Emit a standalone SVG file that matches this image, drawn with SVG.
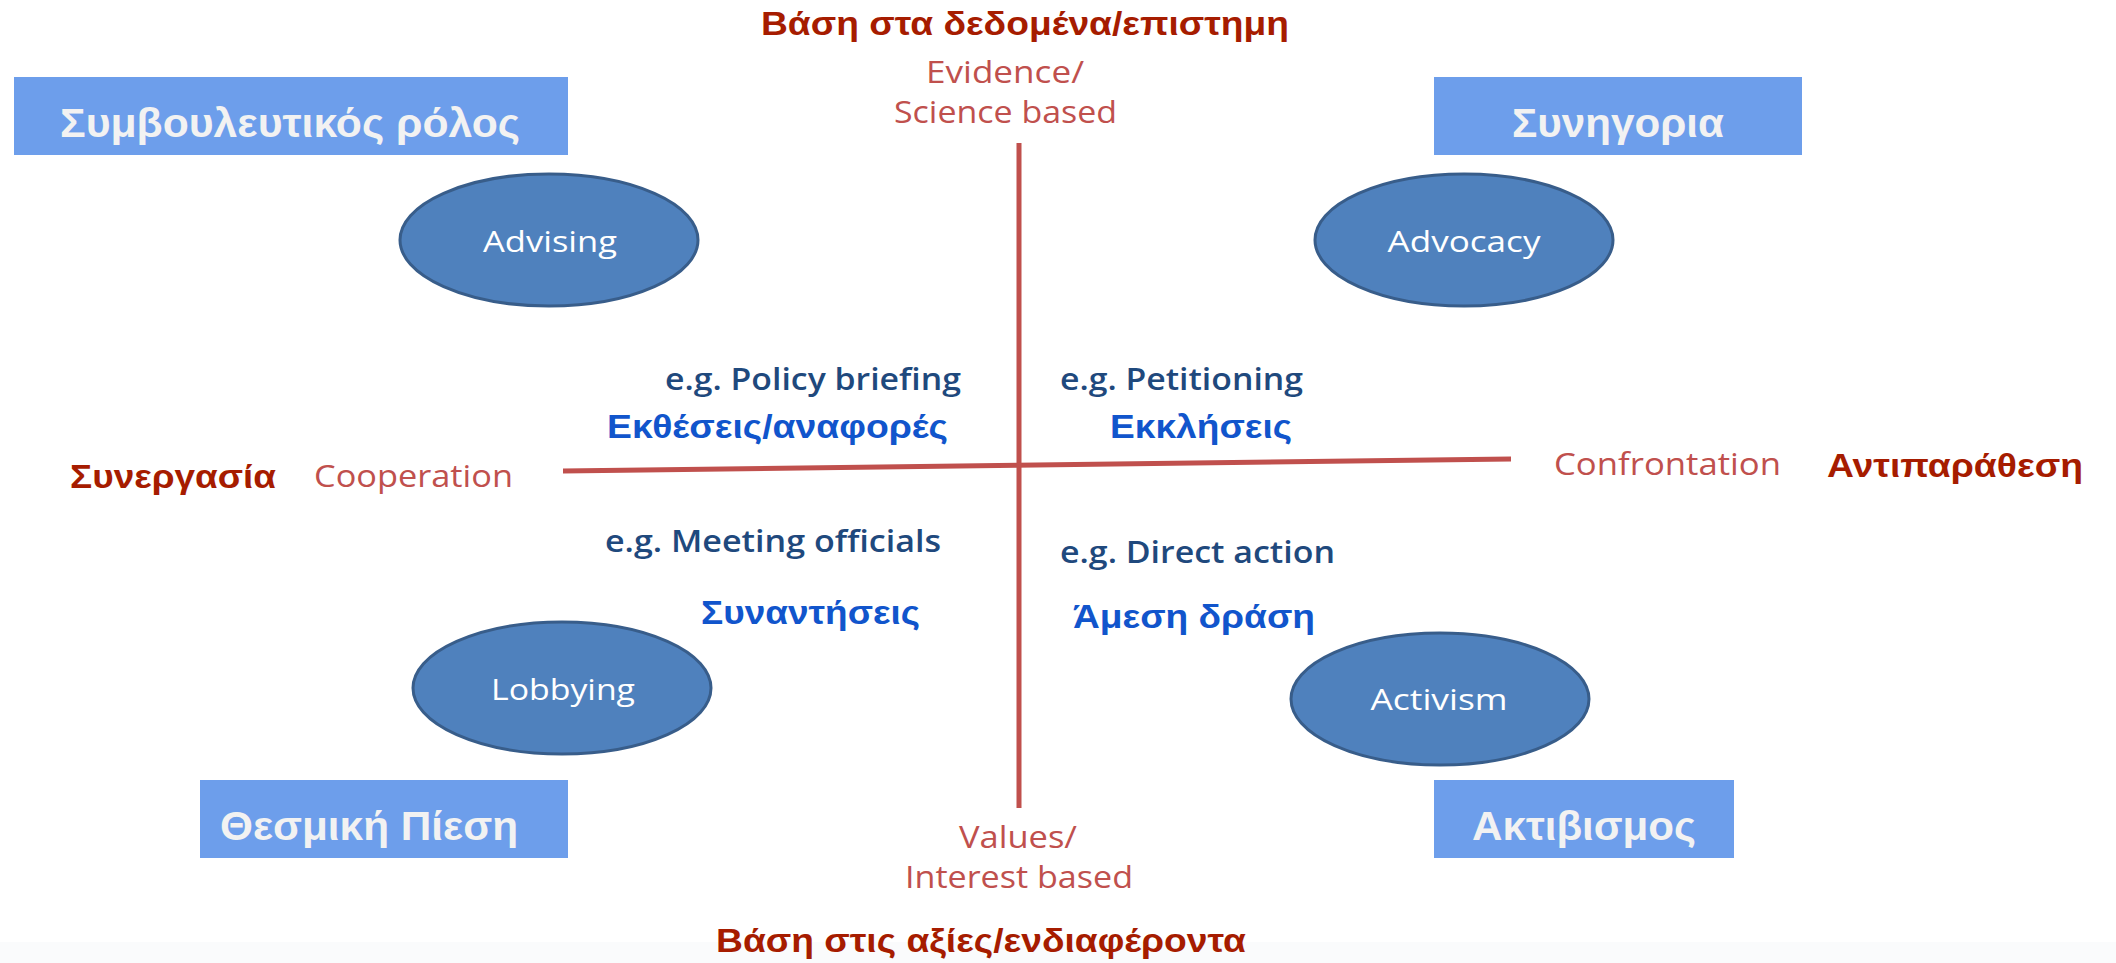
<svg xmlns="http://www.w3.org/2000/svg" width="2116" height="963" viewBox="0 0 2116 963">
<style>
.box{fill:#6D9EEB}
.boxt{font-family:"Liberation Sans",Arial,sans-serif;font-weight:bold;font-size:41px;fill:#F2F2F2}
.ell{fill:#4F81BD;stroke:#385D8A;stroke-width:3}
.ellt{font-family:"Open Sans","Liberation Sans",sans-serif;font-size:30px;fill:#FFFFFF;text-anchor:middle}
.axis{stroke:#C0504D;stroke-width:5;fill:none}
.dark{font-family:"Liberation Sans",Arial,sans-serif;font-weight:bold;font-size:34px;fill:#A61C00}
.red{font-family:"Open Sans","Liberation Sans",sans-serif;font-size:31px;fill:#C0504D}
.navy{font-family:"Open Sans","Liberation Sans",sans-serif;font-weight:600;font-size:30px;fill:#1F497D}
.blue{font-family:"Liberation Sans",Arial,sans-serif;font-weight:bold;font-size:33px;fill:#1155CC}
</style>
<rect width="2116" height="963" fill="#FFFFFF"/>
<rect x="0" y="942" width="2116" height="21" fill="#FAFBFC"/>
<g id="connectors">
<line class="axis" x1="1019" y1="143" x2="1019" y2="808"/>
<line class="axis" x1="563" y1="471" x2="1511" y2="459"/>
</g>
<g id="box-advisory">
<rect class="box" x="14" y="77" width="554" height="78"/>
<text class="boxt" x="60" y="137" textLength="460" lengthAdjust="spacingAndGlyphs">Συμβουλευτικός ρόλος</text>
</g>
<g id="box-advocacy">
<rect class="box" x="1434" y="77" width="368" height="78"/>
<text class="boxt" x="1512" y="137" textLength="212" lengthAdjust="spacingAndGlyphs">Συνηγορια</text>
</g>
<g id="box-lobbying">
<rect class="box" x="200" y="780" width="368" height="78"/>
<text class="boxt" x="220" y="840" textLength="298" lengthAdjust="spacingAndGlyphs">Θεσμική Πίεση</text>
</g>
<g id="box-activism">
<rect class="box" x="1434" y="780" width="300" height="78"/>
<text class="boxt" x="1472" y="840" textLength="224" lengthAdjust="spacingAndGlyphs">Ακτιβισμος</text>
</g>
<g id="node-advising">
<ellipse class="ell" cx="549" cy="240" rx="149" ry="66"/>
<text class="ellt" x="550" y="252" textLength="134" lengthAdjust="spacingAndGlyphs">Advising</text>
</g>
<g id="node-advocacy">
<ellipse class="ell" cx="1464" cy="240" rx="149" ry="66"/>
<text class="ellt" x="1464" y="252" textLength="153" lengthAdjust="spacingAndGlyphs">Advocacy</text>
</g>
<g id="node-lobbying">
<ellipse class="ell" cx="562" cy="688" rx="149" ry="66"/>
<text class="ellt" x="563" y="700" textLength="144" lengthAdjust="spacingAndGlyphs">Lobbying</text>
</g>
<g id="node-activism">
<ellipse class="ell" cx="1440" cy="699" rx="149" ry="66"/>
<text class="ellt" x="1439" y="710" textLength="137" lengthAdjust="spacingAndGlyphs">Activism</text>
</g>
<g id="axis-labels">
<text class="dark" x="761" y="35" textLength="528" lengthAdjust="spacingAndGlyphs">Βάση στα δεδομένα/επιστημη</text>
<text class="red" x="926" y="83" textLength="158" lengthAdjust="spacingAndGlyphs">Evidence/</text>
<text class="red" x="894" y="123" textLength="223" lengthAdjust="spacingAndGlyphs">Science based</text>
<text class="red" x="959" y="848" textLength="118" lengthAdjust="spacingAndGlyphs">Values/</text>
<text class="red" x="905" y="888" textLength="228" lengthAdjust="spacingAndGlyphs">Interest based</text>
<text class="dark" x="716" y="952" textLength="530" lengthAdjust="spacingAndGlyphs">Βάση στις αξίες/ενδιαφέροντα</text>
<text class="dark" x="70" y="488" textLength="206" lengthAdjust="spacingAndGlyphs">Συνεργασία</text>
<text class="red" x="314" y="487" textLength="199" lengthAdjust="spacingAndGlyphs">Cooperation</text>
<text class="red" x="1554" y="475" textLength="227" lengthAdjust="spacingAndGlyphs">Confrontation</text>
<text class="dark" x="1827" y="477" textLength="256" lengthAdjust="spacingAndGlyphs">Αντιπαράθεση</text>
</g>
<g id="examples">
<text class="navy" x="665" y="390" textLength="296" lengthAdjust="spacingAndGlyphs">e.g. Policy briefing</text>
<text class="blue" x="607" y="438" textLength="341" lengthAdjust="spacingAndGlyphs">Εκθέσεις/αναφορές</text>
<text class="navy" x="1060" y="390" textLength="243" lengthAdjust="spacingAndGlyphs">e.g. Petitioning</text>
<text class="blue" x="1110" y="438" textLength="182" lengthAdjust="spacingAndGlyphs">Εκκλήσεις</text>
<text class="navy" x="605" y="552" textLength="336" lengthAdjust="spacingAndGlyphs">e.g. Meeting officials</text>
<text class="blue" x="701" y="624" textLength="219" lengthAdjust="spacingAndGlyphs">Συναντήσεις</text>
<text class="navy" x="1060" y="563" textLength="275" lengthAdjust="spacingAndGlyphs">e.g. Direct action</text>
<text class="blue" x="1073" y="628" textLength="242" lengthAdjust="spacingAndGlyphs">Άμεση δράση</text>
</g>
</svg>
